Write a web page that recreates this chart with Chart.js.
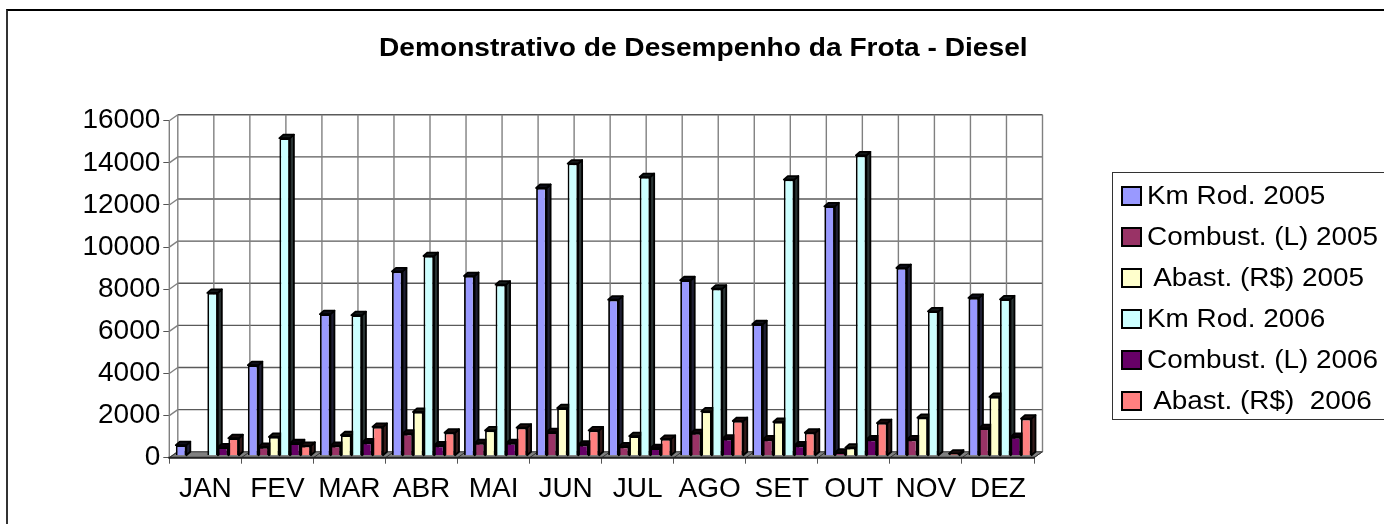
<!DOCTYPE html>
<html>
<head>
<meta charset="utf-8">
<title>Demonstrativo de Desempenho da Frota - Diesel</title>
<script src="https://cdn.jsdelivr.net/npm/chart.js@4"></script>
<style>
  html, body { margin: 0; padding: 0; background: #fff; width: 1384px; height: 524px; overflow: hidden; }
  body { position: relative; font-family: "Liberation Sans", Arial, sans-serif; color: #000; }
  #chartWrap { position: absolute; left: 0; top: 0; width: 1384px; height: 524px; }
  #frame { position: absolute; left: 6px; top: 9px; width: 1400px; height: 540px; border-left: 2px solid #333; border-top: 2px solid #000; }
  #title { position: absolute; left: 379px; top: 31px; font-weight: bold; font-size: 25px; line-height: 32px; white-space: nowrap; transform-origin: 0 0; transform: scaleX(1.125); }
  #legend { position: absolute; left: 1112px; top: 172px; width: 290px; height: 246px; border: 1.5px solid #333; }
  .row { position: absolute; left: 0; height: 30px; white-space: pre; font-size: 25px; line-height: 30px; }
  .row i { position: absolute; left: 8px; top: 6px; width: 17px; height: 16px; border: 2px solid #000; }
  .row span { position: absolute; left: 34px; top: 0; transform-origin: 0 0; transform: scaleX(1.116); }
</style>
</head>
<body>
<div id="frame"></div>
<div id="chartWrap"><canvas id="chart" width="1384" height="524"></canvas></div>
<div id="title">Demonstrativo de Desempenho da Frota - Diesel</div>
<div id="legend"></div>
<script>
const months = ['JAN', 'FEV', 'MAR', 'ABR', 'MAI', 'JUN', 'JUL', 'AGO', 'SET', 'OUT', 'NOV', 'DEZ'];
const seriesNames = ['Km Rod. 2005', 'Combust. (L) 2005', ' Abast. (R$) 2005', 'Km Rod. 2006', 'Combust. (L) 2006', ' Abast. (R$)  2006'];
const seriesColors = ['#9999FF', '#993366', '#FFFFCC', '#CCFFFF', '#660066', '#FF8080'];

const kmRod2005 = [500, 4300, 6720, 8750, 8530, 12710, 7410, 8330, 6240, 11840, 8910, 7490];
const combust2005 = [null, 420, 470, 1045, 600, 1120, 440, 1075, 775, 140, 775, 1310];
const abast2005 = [null, 890, 970, 2075, 1200, 2260, 930, 2105, 1600, 380, 1800, 2790];
const kmRod2006 = [7730, 15075, 6670, 9480, 8120, 13870, 13230, 7930, 13110, 14260, 6855, 7425];
const combust2006 = [400, 590, 630, 490, 600, 520, 360, 810, 490, 775, null, 890];
const abast2006 = [830, 470, 1370, 1090, 1330, 1200, 800, 1645, 1090, 1550, 100, 1760];
const allSeries = [kmRod2005, combust2005, abast2005, kmRod2006, combust2006, abast2006];

const yMax = 16000;
const yStep = 2000;

// how far the back wall sits from the front axes
const wallDx = 8.5;
const wallDy = -6;
// the box depth of each bar, and where bars stand on the floor
const barDx = 4;
const barDy = -3.5;
const barShiftX = 2;
const barShiftY = -2;

function shade(hex, k) {
  const n = parseInt(hex.slice(1), 16);
  const r = Math.round((n >> 16 & 255) * k);
  const g = Math.round((n >> 8 & 255) * k);
  const b = Math.round((n & 255) * k);
  return `rgb(${r},${g},${b})`;
}

function poly(ctx, pts, fill) {
  ctx.beginPath();
  pts.forEach((p, i) => i ? ctx.lineTo(p[0], p[1]) : ctx.moveTo(p[0], p[1]));
  ctx.closePath();
  if (fill) {
    ctx.fillStyle = fill;
    ctx.fill();
  }
  ctx.stroke();
}

function line(ctx, x1, y1, x2, y2) {
  ctx.beginPath();
  ctx.moveTo(x1, y1);
  ctx.lineTo(x2, y2);
  ctx.stroke();
}

const walls3d = {
  id: 'walls3d',
  beforeDatasetsDraw(chart) {
    const { ctx, chartArea: a, scales: { x, y } } = chart;
    ctx.save();
    // floor
    ctx.strokeStyle = '#555';
    ctx.lineWidth = 1;
    poly(ctx, [[a.left, a.bottom], [a.right, a.bottom], [a.right + wallDx, a.bottom + wallDy], [a.left + wallDx, a.bottom + wallDy]], '#808080');

    // back wall, horizontal lines and the ledge back from each y tick
    ctx.lineWidth = 1.4;
    y.ticks.forEach(t => {
      const py = y.getPixelForValue(t.value);
      ctx.strokeStyle = '#5a5a5a';
      line(ctx, a.left + wallDx, py + wallDy, a.right + wallDx, py + wallDy);
      ctx.strokeStyle = '#808080';
      line(ctx, a.left, py, a.left + wallDx, py + wallDy);
    });

    // back wall, vertical lines every half month
    ctx.strokeStyle = '#808080';
    const half = (a.right - a.left) / (months.length * 2);
    for (let i = 0; i <= months.length * 2; i++) {
      const px = a.left + wallDx + i * half;
      line(ctx, px, a.top + wallDy, px, a.bottom + wallDy);
    }
    line(ctx, a.left, a.top, a.left, a.bottom);

    // floor ledges at the month boundaries
    ctx.strokeStyle = '#333';
    ctx.lineWidth = 1;
    for (let i = 0; i <= months.length; i++) {
      const px = a.left + i * half * 2;
      line(ctx, px, a.bottom, px + wallDx, a.bottom + wallDy);
    }
    // front edge of the floor
    ctx.strokeStyle = '#222';
    ctx.lineWidth = 2;
    line(ctx, a.left - 1, a.bottom, a.right + 1, a.bottom);

    // sides and tops of the bars go down first so every front face covers them
    ctx.translate(barShiftX, barShiftY);
    ctx.strokeStyle = '#000';
    ctx.lineWidth = 1.8;
    ctx.lineJoin = 'round';
    chart.data.datasets.forEach((ds, i) => {
      chart.getDatasetMeta(i).data.forEach((bar, j) => {
        if (ds.data[j] === null) return;
        const l = bar.x - bar.width / 2;
        const r = bar.x + bar.width / 2;
        const t = bar.y;
        const b = bar.base;
        poly(ctx, [[r, t], [r + barDx, t + barDy], [r + barDx, b + barDy], [r, b]], shade(seriesColors[i], 0.2));
        poly(ctx, [[l, t], [l + barDx, t + barDy], [r + barDx, t + barDy], [r, t]], shade(seriesColors[i], 0.1));
      });
    });
    ctx.restore();
  },
  beforeDatasetDraw(chart) {
    chart.ctx.save();
    chart.ctx.translate(barShiftX, barShiftY);
  },
  afterDatasetDraw(chart) {
    chart.ctx.restore();
  }
};

const datasets = allSeries.map((values, i) => ({
  label: seriesNames[i],
  data: values,
  backgroundColor: seriesColors[i],
  borderColor: '#000',
  borderWidth: 1.8,
  clip: false,
  categoryPercentage: 0.875,
  barPercentage: 1
}));

new Chart(document.getElementById('chart'), {
  type: 'bar',
  data: { labels: months, datasets },
  plugins: [walls3d],
  options: {
    responsive: false,
    animation: false,
    layout: { padding: { top: 120.7, right: 350, left: 0, bottom: 0 } },
    plugins: { legend: { display: false }, title: { display: false }, tooltip: { enabled: false } },
    scales: {
      x: {
        afterFit(scale) { scale.height = 524 - 457.7; },
        grid: { drawOnChartArea: false, tickLength: 6, color: '#555' },
        border: { display: false },
        ticks: { color: '#000', padding: 9, maxRotation: 0, autoSkip: false, font: { family: 'Liberation Sans', size: 28 } }
      },
      y: {
        min: 0,
        max: yMax,
        afterFit(scale) { scale.width = 169.3; },
        grid: { drawOnChartArea: false, tickLength: 6, color: '#555' },
        border: { display: false },
        ticks: { stepSize: yStep, color: '#000', padding: 3, callback: v => String(v), font: { family: 'Liberation Sans', size: 28 } }
      }
    }
  }
});

// legend rows, same order as the datasets
const legendBox = document.getElementById('legend');
seriesNames.forEach((name, i) => {
  const row = document.createElement('div');
  row.className = 'row';
  row.style.top = (7 + i * 41) + 'px';
  const swatch = document.createElement('i');
  swatch.style.background = seriesColors[i];
  const text = document.createElement('span');
  text.textContent = name;
  row.append(swatch, text);
  legendBox.append(row);
});
</script>
</body>
</html>
